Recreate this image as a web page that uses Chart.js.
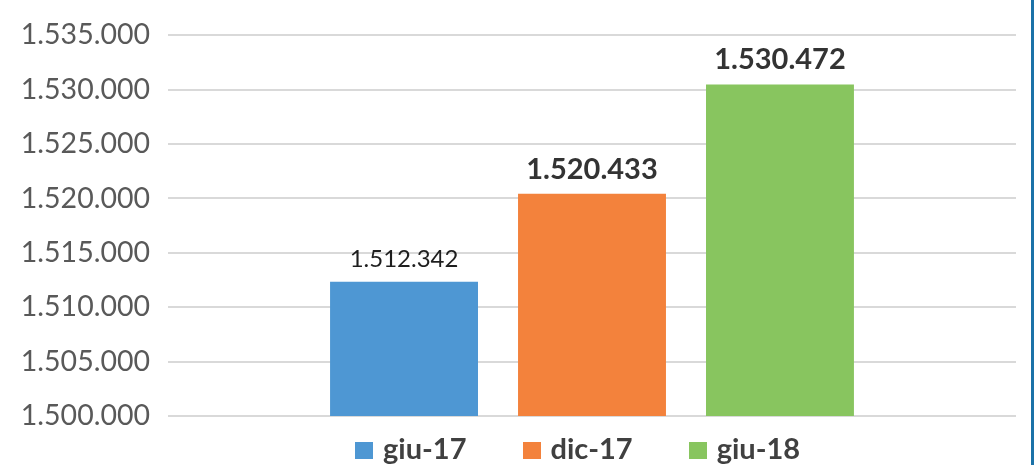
<!DOCTYPE html>
<html>
<head>
<meta charset="utf-8">
<script src="https://cdn.jsdelivr.net/npm/chart.js@4"></script>
<style>
    html, body { margin: 0; padding: 0; background: #fff; }
    #wrap { position: relative; width: 1034px; height: 465px; overflow: hidden; }
    #edge { position: absolute; right: 0; top: 0; width: 3px; height: 465px; background: #1b72a8; }
    #legend { position: absolute; left: 355px; top: 433px; display: flex; gap: 56px;
              font: bold 29px/29px Lato, sans-serif; color: #404040; }
    #legend .item { display: flex; align-items: center; }
    #legend .box { width: 18px; height: 17px; margin-right: 10px; position: relative; top: 3px; }
</style>
</head>
<body>
<div id="wrap">
    <canvas id="chart" width="1034" height="465"></canvas>
    <div id="legend"></div>
    <div id="edge"></div>
</div>
<script>
// periods (categories) and values
const periods = ["giu-17", "dic-17", "giu-18"];
const values = [1512342, 1520433, 1530472];
const colors = ["#4e97d3", "#f3823c", "#88c55f"];

// y axis
const yMin = 1500000;
const yMax = 1535000;
const yStep = 5000;

// Italian style thousands separator
function fmt(n) {
    return String(Math.round(n)).replace(/\B(?=(\d{3})+(?!\d))/g, ".");
}

const datasets = periods.map((p, i) => ({
    label: p,
    data: [values[i]],
    backgroundColor: colors[i],
    borderWidth: 0,
    categoryPercentage: 0.665,
    barPercentage: 0.787
}));

// value labels above bars, first one plain, others bold
const valueLabels = {
    id: "valueLabels",
    afterDatasetsDraw(chart) {
        const ctx = chart.ctx;
        ctx.save();
        ctx.textAlign = "center";
        ctx.textBaseline = "alphabetic";
        chart.data.datasets.forEach((ds, i) => {
            const bar = chart.getDatasetMeta(i).data[0];
            if (i === 0) {
                ctx.font = "normal 24px Lato";
                ctx.fillStyle = "#1e1e1e";
            } else {
                ctx.font = "bold 29px Lato";
                ctx.fillStyle = "#333333";
            }
            ctx.fillText(fmt(ds.data[0]), bar.x, bar.y - 15);
        });
        ctx.restore();
    }
};

const chart = new Chart(document.getElementById("chart"), {
    type: "bar",
    data: { labels: [""], datasets: datasets },
    options: {
        responsive: false,
        animation: false,
        layout: { padding: { top: 31, right: 18, bottom: 49, left: 0 } },
        scales: {
            x: {
                display: false
            },
            y: {
                min: yMin,
                max: yMax,
                afterFit: (scale) => { scale.width = 168; },
                border: { display: false },
                grid: { color: "#d9d9d9", lineWidth: 2, drawTicks: false },
                ticks: {
                    stepSize: yStep,
                    padding: 18,
                    color: "#595959",
                    font: { family: "Lato", size: 28.5 },
                    callback: (v) => fmt(v)
                }
            }
        },
        plugins: {
            tooltip: { enabled: false },
            legend: { display: false }
        }
    },
    plugins: [valueLabels]
});

// legend under the plot, built from the datasets
const legend = document.getElementById("legend");
chart.data.datasets.forEach((ds) => {
    const item = document.createElement("div");
    item.className = "item";
    item.innerHTML = `<span class="box" style="background:${ds.backgroundColor}"></span><span>${ds.label}</span>`;
    legend.appendChild(item);
});
</script>
</body>
</html>
